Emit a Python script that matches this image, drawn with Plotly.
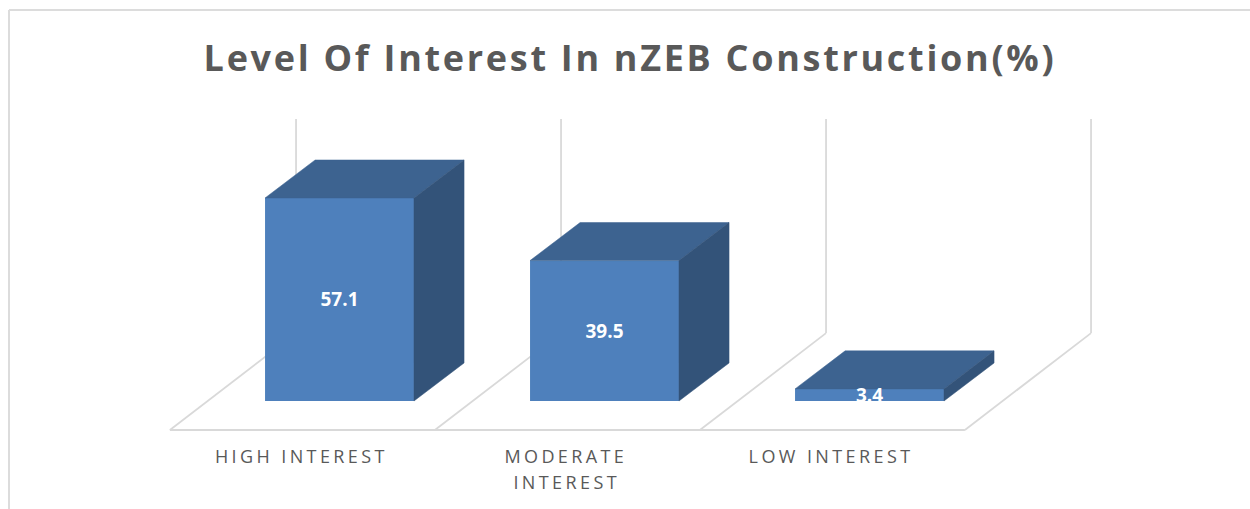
import plotly.graph_objects as go

title = "Level Of Interest In nZEB Construction(%)"
categories = ["HIGH INTEREST", "MODERATE<br>INTEREST", "LOW INTEREST"]
values = [57.1, 39.5, 3.4]

W, H = 1250, 509
FRONT, TOP, SIDE = "#4e80bc", "#3d6390", "#335379"
GRID = "#d9d9d9"
TEXT = "#595959"

# oblique projection, in axis units (1 x unit = one category, 3.555 px per %)
bar_w = 0.562
depth_x, depth_y = 0.189, 10.7
floor_dx, floor_front, floor_back = 0.476, -8.16, 19.1
wall_x0, wall_top = -0.164, 79.3

positions = list(range(len(values)))
fig = go.Figure()

fig.add_trace(go.Bar(x=positions, y=values, width=bar_w, marker=dict(color=FRONT, line_width=0),
                     hoverinfo="skip"))

for i, v in zip(positions, values):
    l, r = i - bar_w / 2, i + bar_w / 2
    # top face
    fig.add_trace(go.Scatter(x=[l, r, r + depth_x, l + depth_x, l], y=[v, v, v + depth_y, v + depth_y, v],
                             mode="lines", fill="toself", fillcolor=TOP, line=dict(color=TOP, width=0.5),
                             hoverinfo="skip"))
    # side face
    fig.add_trace(go.Scatter(x=[r, r + depth_x, r + depth_x, r, r], y=[0, depth_y, v + depth_y, v, 0],
                             mode="lines", fill="toself", fillcolor=SIDE, line=dict(color=SIDE, width=0.5),
                             hoverinfo="skip"))

# slight drop so the labels sit where the reference has them
fig.add_trace(go.Scatter(x=positions, y=[v / 2 - 0.6 for v in values], mode="text",
                         text=[str(v) for v in values],
                         textfont=dict(family="Open Sans", size=19, color="white", weight="bold"),
                         textposition="middle center", hoverinfo="skip"))

# walls and floor sit behind the bars
line = dict(color=GRID, width=1.8)
for i in range(len(values) + 1):
    wx = wall_x0 + i
    fig.add_shape(type="line", x0=wx, x1=wx, y0=floor_back, y1=wall_top, line=line, layer="below")
    fig.add_shape(type="line", x0=wx - floor_dx, x1=wx, y0=floor_front, y1=floor_back, line=line, layer="below")
fig.add_shape(type="line", x0=wall_x0 - floor_dx, x1=wall_x0 - floor_dx + len(values),
              y0=floor_front, y1=floor_front, line=line, layer="below")

# chart frame, cut off on the right and at the bottom
frame = dict(color="#dcdcdc", width=2)
fig.add_shape(type="line", xref="paper", yref="paper", x0=9 / W, x1=1, y0=1 - 10 / H, y1=1 - 10 / H, line=frame, layer="below")
fig.add_shape(type="line", xref="paper", yref="paper", x0=9 / W, x1=9 / W, y0=0, y1=1 - 10 / H, line=frame, layer="below")

label_font = dict(family="Open Sans", size=18, color=TEXT)
for i, label in zip(positions, categories):
    for n, part in enumerate(label.split("<br>")):
        fig.add_annotation(x=i - 0.145, y=-15.5 - n * 7.3, text=part, showarrow=False,
                           xanchor="center", yanchor="middle", font=label_font)

fig.update_layout(
    title=dict(text=title, x=630 / W, xanchor="center", y=1 - 58 / H, yanchor="middle",
               font=dict(family="Open Sans", size=36, color=TEXT, weight="bold")),
    width=W, height=H,
    margin=dict(l=0, r=0, t=0, b=0),
    showlegend=False,
    paper_bgcolor="white", plot_bgcolor="white",
    xaxis=dict(range=[-339.5 / 265, (W - 339.5) / 265], visible=False),
    yaxis=dict(range=[-(H - 401) / 3.555, 401 / 3.555], visible=False),
)

# plotly has no letter spacing setting, so it goes on through the page
spacing = """
document.body.style.margin = '0';
document.querySelectorAll('.gtitle').forEach(function (t) { t.style.letterSpacing = '2.7px'; });
document.querySelectorAll('.annotation-text').forEach(function (t) { t.style.letterSpacing = '3.4px'; });
"""
fig.write_html("out.html", post_script=spacing, config=dict(displayModeBar=False))
